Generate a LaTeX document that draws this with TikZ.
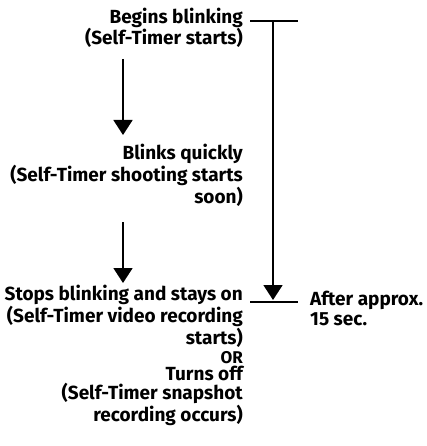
\documentclass[tikz,border=0pt]{standalone}
\usepackage{fontspec}
\setmainfont{Fira Sans}
\usepackage{tikz}
\usetikzlibrary{arrows.meta,positioning,calc}

\tikzset{
  step text/.style={anchor=base east, align=right, font=\bfseries\fontsize{19}{19.3}\selectfont, inner sep=0pt},
  note text/.style={anchor=base west, align=left, font=\bfseries\fontsize{19}{19.3}\selectfont, inner sep=0pt},
  flow/.style={line width=1.8pt, -{Triangle[width=19pt,length=15pt]}},
  timer/.style={line width=1.8pt}
}

\begin{document}
\begin{tikzpicture}[x=1pt,y=-1pt]
\useasboundingbox (0,0) rectangle (426,446);

% LED states (placed by the baseline of their last line)
\node[step text] (begin) at (243,45) {Begins blinking\\(Self-Timer starts)};
\node[step text] (quick) at (243,203) {Blinks quickly\\(Self-Timer shooting starts\\soon)};
\node[step text] (stay) at (243,344) {Stops blinking and stays on\\(Self-Timer video recording\\starts)};
\node[anchor=base east, inner sep=0pt, font=\fontsize{17}{17}\selectfont\bfseries] (or) at (243,363) {OR};
\node[step text] (off) at (243,421) {Turns off\\(Self-Timer snapshot\\recording occurs)};

% arrows between the states
\coordinate (a1) at (123,59);
\coordinate (a1end) at (123,135);
\coordinate (a2) at (123,222);
\coordinate (a2end) at (123,283);
\draw[flow] (a1) -- (a1end);
\draw[flow] (a2) -- (a2end);

% timing bracket
\coordinate (tl) at (250,20.7);
\coordinate (tr) at (298,20.7);
\coordinate (bl) at (250,302);
\coordinate (br) at (298,302);
\coordinate (ttop) at (273,20.7);
\coordinate (tbot) at (273,300);
\draw[timer] (tl) -- (tr);
\draw[timer] (bl) -- (br);
\draw[timer, flow] (ttop) -- (tbot);

% time note
\node[note text] (after) at (310,325) {After approx.\\15 sec.};
\end{tikzpicture}
\end{document}
